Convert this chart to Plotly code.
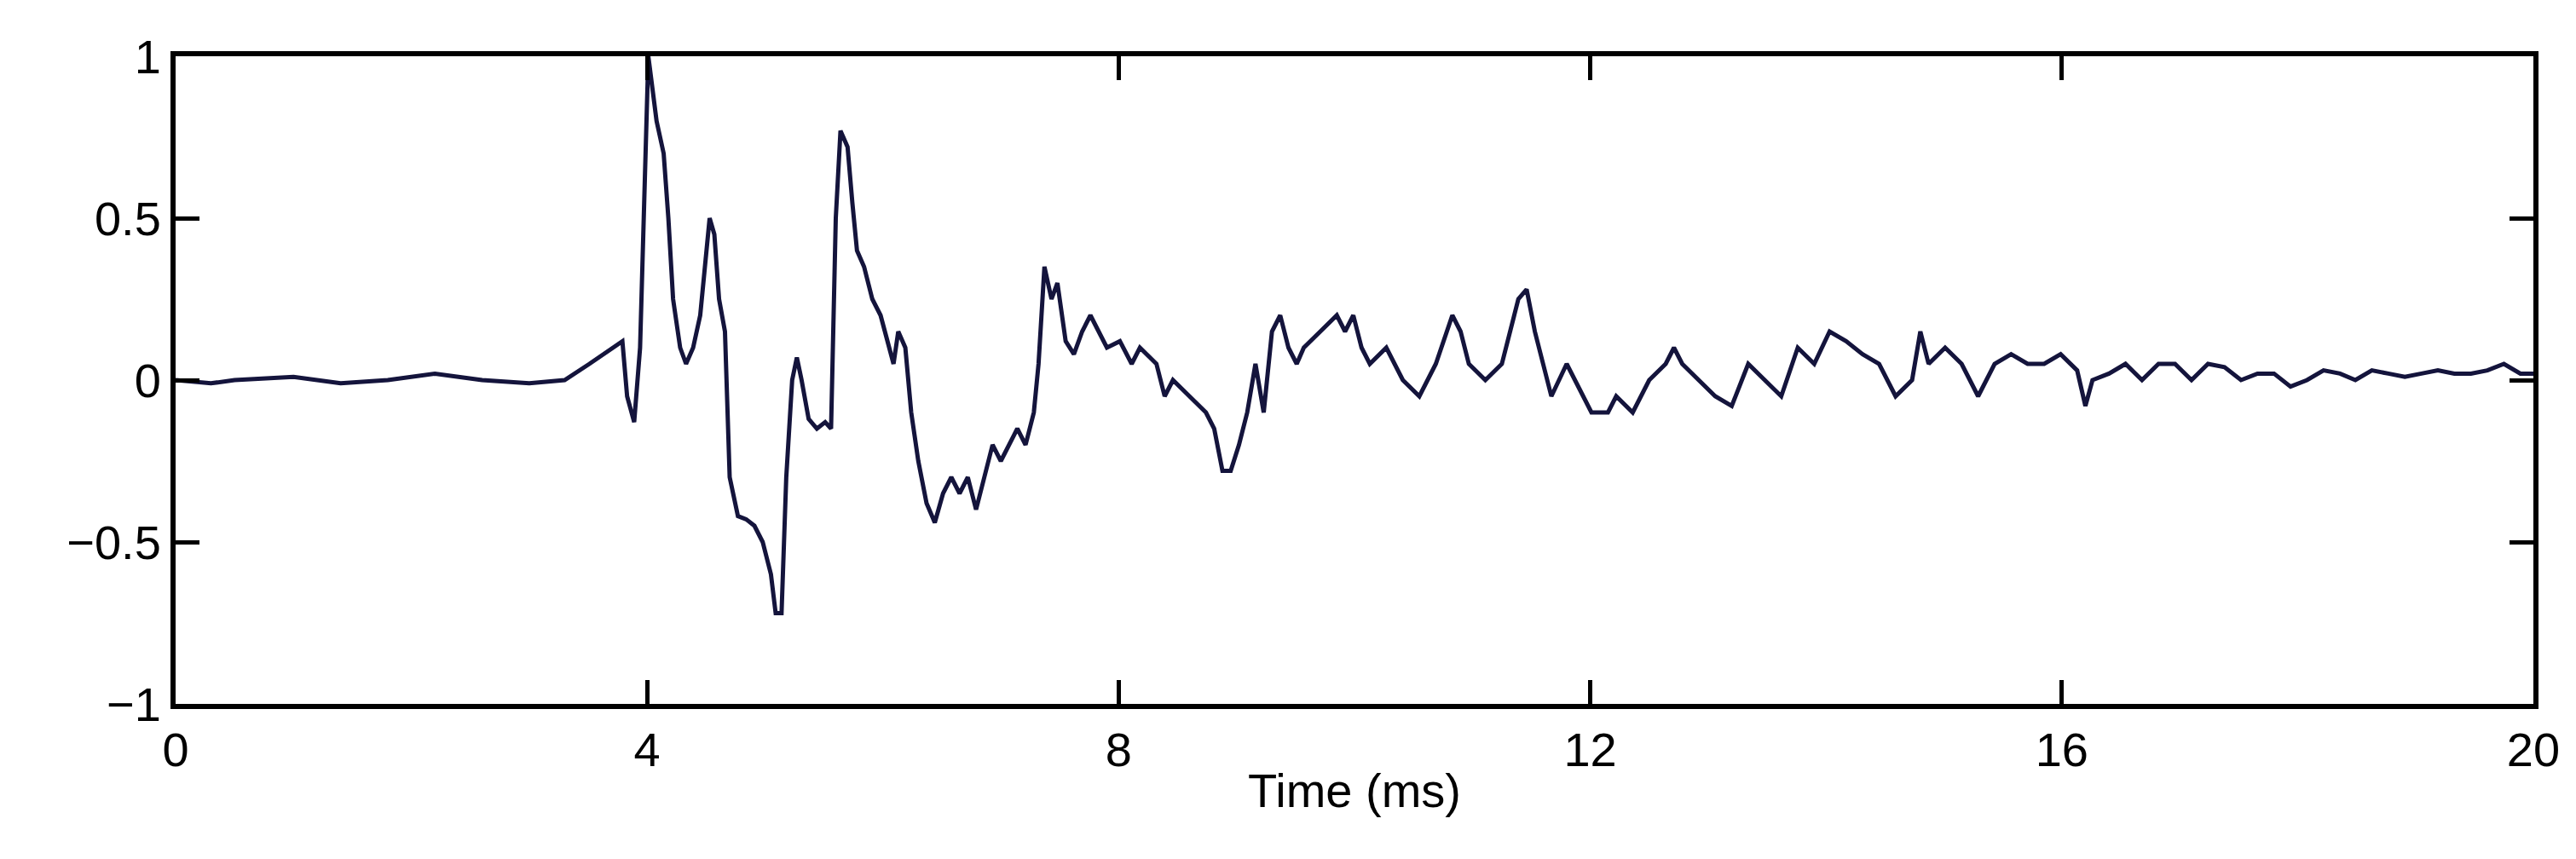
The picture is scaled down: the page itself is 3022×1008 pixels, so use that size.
import plotly.graph_objects as go

# signal (time in ms, normalised amplitude)
time_ms = [0, 0.3, 0.5, 1.0, 1.4, 1.8, 2.2, 2.6, 3.0, 3.30, 3.51, 3.72, 3.79, 3.83, 3.89, 3.94,
           4.01, 4.08, 4.14, 4.18, 4.22, 4.28, 4.33, 4.39, 4.45, 4.49, 4.53, 4.57, 4.61, 4.66,
           4.70, 4.77, 4.84, 4.91, 4.98, 5.05, 5.09, 5.14, 5.18, 5.23, 5.27, 5.31, 5.37, 5.44,
           5.51, 5.56, 5.60, 5.64, 5.70, 5.74, 5.78, 5.84, 5.91, 5.98, 6.05, 6.09, 6.13, 6.19,
           6.24, 6.30, 6.37, 6.44, 6.51, 6.58, 6.65, 6.72, 6.79, 6.86, 6.93, 7.00, 7.07, 7.14,
           7.21, 7.28, 7.32, 7.37, 7.43, 7.48, 7.55, 7.62, 7.69, 7.76, 7.83, 7.90, 8.01, 8.11,
           8.18, 8.32, 8.39, 8.46, 8.60, 8.74, 8.81, 8.88, 8.95, 9.02, 9.09, 9.16, 9.23, 9.30,
           9.37, 9.44, 9.51, 9.57, 9.71, 9.85, 9.92, 9.99, 10.06, 10.13, 10.27, 10.41, 10.55,
           10.69, 10.83, 10.90, 10.97, 11.11, 11.25, 11.32, 11.39, 11.46, 11.53, 11.60, 11.67,
           11.80, 11.94, 12.01, 12.15, 12.22, 12.36, 12.50, 12.64, 12.71, 12.78, 12.92, 13.06,
           13.20, 13.34, 13.48, 13.62, 13.76, 13.90, 14.03, 14.17, 14.31, 14.45, 14.59, 14.73,
           14.80, 14.87, 15.01, 15.15, 15.29, 15.43, 15.57, 15.71, 15.85, 15.99, 16.13, 16.20,
           16.26, 16.40, 16.54, 16.68, 16.82, 16.96, 17.10, 17.24, 17.38, 17.52, 17.66, 17.80,
           17.94, 18.08, 18.22, 18.36, 18.49, 18.63, 18.77, 18.91, 19.05, 19.19, 19.33, 19.47,
           19.61, 19.75, 19.89, 20.0]
amplitude = [0, -0.01, 0, 0.01, -0.01, 0, 0.02, 0, -0.01, 0, 0.05, 0.1, 0.12, -0.05, -0.13, 0.1,
             1.0, 0.8, 0.7, 0.5, 0.25, 0.1, 0.05, 0.1, 0.2, 0.35, 0.5, 0.45, 0.25, 0.15,
             -0.3, -0.42, -0.43, -0.45, -0.5, -0.6, -0.72, -0.72, -0.3, 0.0, 0.07, 0.0, -0.12, -0.15,
             -0.13, -0.15, 0.5, 0.77, 0.72, 0.55, 0.4, 0.35, 0.25, 0.2, 0.1, 0.05, 0.15, 0.1,
             -0.1, -0.25, -0.38, -0.44, -0.35, -0.3, -0.35, -0.3, -0.4, -0.3, -0.2, -0.25, -0.2, -0.15,
             -0.2, -0.1, 0.05, 0.35, 0.25, 0.3, 0.12, 0.08, 0.15, 0.2, 0.15, 0.1, 0.12, 0.05,
             0.1, 0.05, -0.05, 0.0, -0.05, -0.1, -0.15, -0.28, -0.28, -0.2, -0.1, 0.05, -0.1, 0.15,
             0.2, 0.1, 0.05, 0.1, 0.15, 0.2, 0.15, 0.2, 0.1, 0.05, 0.1, 0.0, -0.05,
             0.05, 0.2, 0.15, 0.05, 0.0, 0.05, 0.15, 0.25, 0.28, 0.15, 0.05, -0.05,
             0.05, -0.05, -0.1, -0.1, -0.05, -0.1, 0.0, 0.05, 0.1, 0.05, 0.0, -0.05,
             -0.08, 0.05, 0.0, -0.05, 0.1, 0.05, 0.15, 0.12, 0.08, 0.05, -0.05, 0.0,
             0.15, 0.05, 0.1, 0.05, -0.05, 0.05, 0.08, 0.05, 0.05, 0.08, 0.03, -0.08,
             0.0, 0.02, 0.05, 0.0, 0.05, 0.05, 0.0, 0.05, 0.04, 0.0, 0.02, 0.02,
             -0.02, 0.0, 0.03, 0.02, 0.0, 0.03, 0.02, 0.01, 0.02, 0.03, 0.02, 0.02,
             0.03, 0.05, 0.02, 0.02]

x_ticks = [0, 4, 8, 12, 16, 20]
y_ticks = [-1, -0.5, 0, 0.5, 1]
y_labels = ['\u22121', '\u22120.5', '0', '0.5', '1']

fig = go.Figure(go.Scatter(x=time_ms, y=amplitude, mode='lines',
                           line=dict(color='#14143c', width=5)))

axis_style = dict(showline=True, linecolor='black', linewidth=6, mirror='ticks',
                  ticks='inside', ticklen=28, tickwidth=5, tickcolor='black',
                  showgrid=False, zeroline=False,
                  tickfont=dict(family='Liberation Sans', size=56, color='black'))

fig.update_xaxes(range=[0, 20], tickvals=x_ticks, **axis_style,
                 title=dict(text='Time (ms)', standoff=0,
                            font=dict(family='Liberation Sans', size=56, color='black')))
fig.update_yaxes(range=[-1, 1], tickvals=y_ticks, ticktext=y_labels, **axis_style)

fig.update_layout(width=3022, height=1008, plot_bgcolor='white', paper_bgcolor='white',
                  showlegend=False, margin=dict(l=198, r=58, t=58, b=190))

fig.write_html("out.html")
